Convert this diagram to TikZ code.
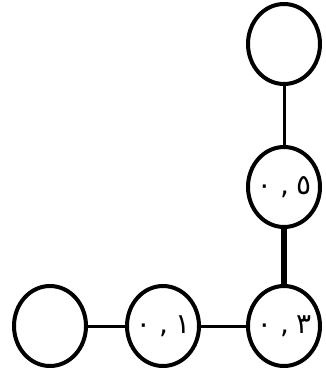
\documentclass[tikz,border=0pt]{standalone}
\usepackage{fontspec}
\newfontfamily\arabicfont[Script=Arabic]{DejaVu Sans}
\TeXXeTstate=1
\usetikzlibrary{positioning,shapes.geometric}
\newcommand{\numtext}[1]{\makebox[0pt]{\beginL #1\endL}}
\tikzset{
  numblock/.style={draw, ellipse, line width=4pt, minimum width=72pt, minimum height=80pt, inner sep=0pt, font=\arabicfont\fontsize{28}{32}\selectfont},
  numlink/.style={line width=3pt},
  numlinkthick/.style={line width=5.5pt}
}

\begin{document}
\begin{tikzpicture}[x=1pt, y=1pt]
\useasboundingbox (0,0) rectangle (326,-376);
\node[numblock] (zerothree) at (284,-326) {\numtext{٠\hspace{0.3em},\hspace{0.25em}٣}};
\node[numblock, left=45pt of zerothree] (zeroone) {\numtext{٠\hspace{0.3em},\hspace{0.25em}١}};
\node[numblock, left=37pt of zeroone] (leaf) {};
\node[numblock, above=55pt of zerothree] (zerofive) {\numtext{٠\hspace{0.3em},\hspace{0.25em}٥}};
\node[numblock, above=59pt of zerofive] (top) {};
\draw[numlink] (leaf) -- (zeroone);
\draw[numlink] (zeroone) -- (zerothree);
\draw[numlinkthick] (zerofive) -- (zerothree);
\draw[numlink] (top) -- (zerofive);
\end{tikzpicture}
\end{document}
